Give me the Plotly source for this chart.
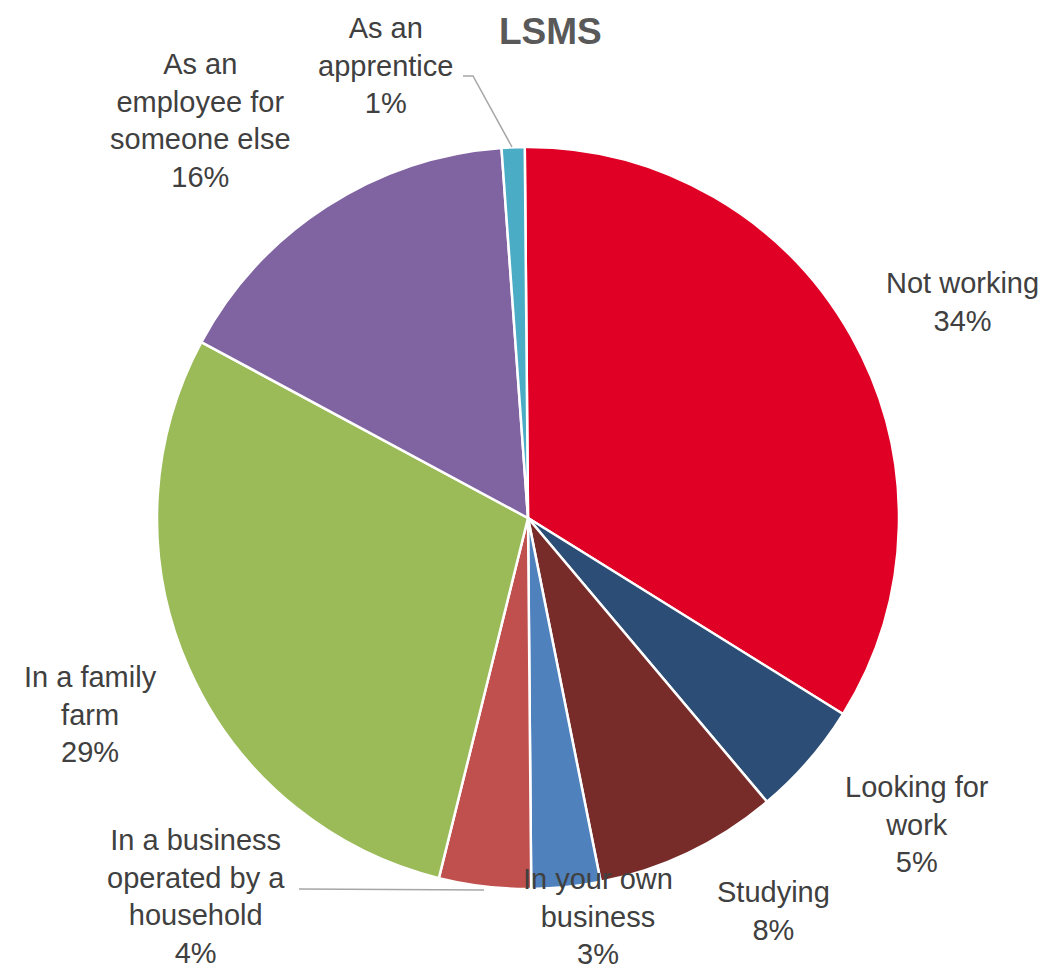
import plotly.graph_objects as go

# Employment status shares (LSMS), clockwise from 12 o'clock
categories = [
    "Not working",
    "Looking for work",
    "Studying",
    "In your own business",
    "In a business operated by a household",
    "In a family farm",
    "As an employee for someone else",
    "As an apprentice",
]
shares = [34, 5, 8, 3, 4, 29, 16, 1]
colors = ["#E00025", "#2C4D75", "#772C2A", "#4F81BD", "#C0504D", "#9BBB59", "#8064A2", "#4BACC6"]

# Label text broken into lines as displayed around the pie
label_lines = [
    "Not working",
    "Looking for<br>work",
    "Studying",
    "In your own<br>business",
    "In a business<br>operated by a<br>household",
    "In a family<br>farm",
    "As an<br>employee for<br>someone else",
    "As an<br>apprentice",
]
# Label anchor centres in pixels (x, y from top)
label_pos = [
    (962, 302),
    (917, 824),
    (773, 911),
    (598, 916),
    (196, 896),
    (90, 714),
    (200, 120),
    (385, 66),
]

W, H = 1051, 972
cx, cy, r = 528, 518, 371

fig = go.Figure(
    go.Pie(
        labels=categories,
        values=shares,
        sort=False,
        direction="clockwise",
        rotation=-0.5,
        marker=dict(colors=colors, line=dict(color="white", width=2.5)),
        textinfo="none",
        hoverinfo="label+percent",
        showlegend=False,
        domain=dict(
            x=[(cx - r) / W, (cx + r) / W],
            y=[1 - (cy + r) / H, 1 - (cy - r) / H],
        ),
    )
)

total = sum(shares)
for text, v, (px, py) in zip(label_lines, shares, label_pos):
    fig.add_annotation(
        x=px / W,
        y=1 - py / H,
        xref="paper",
        yref="paper",
        xanchor="center",
        yanchor="middle",
        showarrow=False,
        align="center",
        text=f"{text}<br>{round(100 * v / total)}%",
        font=dict(family="Liberation Sans, Arial, sans-serif", size=29, color="#404040"),
    )

# Leader lines for the two small slices
leader_color = "#A6A6A6"
fig.add_shape(
    type="path",
    xref="paper",
    yref="paper",
    path=f"M {463 / W},{1 - 76 / H} L {473 / W},{1 - 76 / H} L {512 / W},{1 - 147 / H}",
    line=dict(color=leader_color, width=1.5),
)
fig.add_shape(
    type="line",
    xref="paper",
    yref="paper",
    x0=299 / W,
    y0=1 - 889 / H,
    x1=484 / W,
    y1=1 - 890 / H,
    line=dict(color=leader_color, width=1.5),
)

fig.add_annotation(
    x=550 / W,
    y=1 - 32 / H,
    xref="paper",
    yref="paper",
    xanchor="center",
    yanchor="middle",
    showarrow=False,
    text="<b>LSMS</b>",
    font=dict(family="Liberation Sans, Arial, sans-serif", size=37, color="#595959"),
)

fig.update_layout(
    width=W,
    height=H,
    margin=dict(l=0, r=0, t=0, b=0),
    paper_bgcolor="white",
    plot_bgcolor="white",
)

fig.write_html("out.html")
